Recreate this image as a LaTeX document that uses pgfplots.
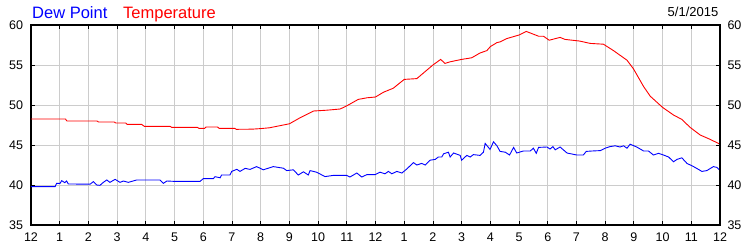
\documentclass[border=0pt]{standalone}
\usepackage{fontspec}
\setmainfont{Liberation Sans}
\usepackage{pgfplots}
\pgfplotsset{compat=1.18}
\definecolor{gridgray}{RGB}{204,204,204}
\definecolor{dewblue}{RGB}{0,0,255}
\definecolor{tempred}{RGB}{255,0,0}
\pgfplotsset{
  common/.style={
    at={(0,0)}, anchor=south west,
    scale only axis, width=689pt, height=200pt,
    xmin=0, xmax=24, ymin=35, ymax=60,
    ytick={35,40,...,60},
    xtick={0,1,...,24},
    tick align=inside,
    major tick length=4pt,
    tick style={black, line width=0.8pt},
    axis line style={black, line width=1.6pt},
    /pgf/number format/assume math mode=true,
    ticklabel style={font=\fontsize{12.5}{14}\selectfont},
    yticklabel style={inner sep=0pt, outer sep=0pt},
  }
}
\begin{document}
\begin{tikzpicture}[x=1pt,y=1pt]
\useasboundingbox (-31,-25) rectangle (719,225);
\begin{axis}[common,
  grid=major,
  major grid style={gridgray, line width=0.8pt},
  xticklabels={12,1,2,3,4,5,6,7,8,9,10,11,12,1,2,3,4,5,6,7,8,9,10,11,12},
  xticklabel style={yshift=-4pt},
  yticklabel style={xshift=-8pt},
  xtick pos=both, ytick pos=both, xticklabel pos=bottom, yticklabel pos=left,
]
\addplot[tempred, line width=0.9pt] coordinates {
(0,48.25)(1.2,48.25)(1.25,48.0)(2.3,48.0)(2.35,47.88)(2.9,47.88)(2.95,47.75)(3.3,47.75)(3.35,47.58)(3.85,47.58)(3.95,47.33)(4.85,47.33)(4.9,47.2)(5.8,47.2)(5.85,47.08)(6.05,47.08)(6.1,47.25)(6.5,47.25)(6.55,47.08)(7.1,47.08)(7.15,46.96)(7.7,46.98)(8.0,47.05)(8.3,47.15)(8.65,47.4)(9.0,47.65)(9.37,48.4)(9.84,49.25)(10.3,49.35)(10.77,49.5)(11.0,49.9)(11.4,50.7)(11.7,50.9)(12.0,51.0)(12.28,51.6)(12.62,52.1)(13.0,53.2)(13.44,53.3)(13.67,54.0)(14.0,55.0)(14.27,55.7)(14.42,55.2)(14.6,55.4)(15.0,55.7)(15.35,55.9)(15.64,56.5)(15.88,56.8)(16.0,57.3)(16.23,57.8)(16.35,57.9)(16.57,58.3)(17.0,58.75)(17.25,59.2)(17.68,58.6)(17.85,58.6)(18.05,58.1)(18.43,58.45)(18.6,58.2)(19.1,58.0)(19.48,57.7)(19.94,57.6)(20.29,56.8)(20.76,55.6)(20.99,54.5)(21.34,52.3)(21.57,51.1)(22.0,49.7)(22.38,48.75)(22.67,48.2)(22.96,47.2)(23.31,46.25)(23.66,45.7)(24.0,45.1)
};
\addplot[dewblue, line width=0.9pt] coordinates {
(0,39.8)(0.84,39.8)(0.89,40.2)(1.01,40.2)(1.07,40.54)(1.18,40.29)(1.24,40.5)(1.3,40.13)(2.06,40.1)(2.17,40.42)(2.29,40.0)(2.4,39.96)(2.52,40.33)(2.64,40.63)(2.75,40.33)(2.93,40.71)(3.1,40.33)(3.22,40.5)(3.39,40.33)(3.68,40.63)(4.49,40.63)(4.61,40.2)(4.73,40.5)(4.96,40.46)(5.89,40.46)(6.0,40.79)(6.35,40.79)(6.41,41.04)(6.59,40.9)(6.64,41.25)(6.93,41.25)(6.99,41.7)(7.17,41.96)(7.28,41.7)(7.46,42.08)(7.63,41.95)(7.86,42.3)(8.09,41.9)(8.44,42.3)(8.79,42.1)(8.91,41.8)(9.14,41.9)(9.31,41.25)(9.49,41.65)(9.66,41.25)(9.72,41.8)(9.95,41.6)(10.24,41.05)(10.53,41.2)(11.0,41.2)(11.11,41.0)(11.35,41.5)(11.52,41.0)(11.7,41.3)(11.99,41.3)(12.16,41.6)(12.33,41.4)(12.45,41.7)(12.57,41.4)(12.74,41.7)(12.92,41.5)(13.09,42.0)(13.32,42.8)(13.44,42.5)(13.61,42.7)(13.73,42.5)(13.9,43.1)(14.08,43.2)(14.19,43.5)(14.31,43.5)(14.37,43.9)(14.54,44.1)(14.6,43.5)(14.72,44.0)(14.95,43.7)(15.0,43.1)(15.18,43.7)(15.3,43.5)(15.41,43.8)(15.64,43.7)(15.76,44.1)(15.82,45.2)(15.99,44.45)(16.11,45.4)(16.23,44.9)(16.34,44.2)(16.52,44.1)(16.67,43.75)(16.81,44.7)(16.92,44.0)(17.15,44.25)(17.39,44.25)(17.5,44.6)(17.6,43.96)(17.68,44.7)(17.97,44.75)(18.08,44.5)(18.18,44.8)(18.26,44.4)(18.43,44.75)(18.67,44.0)(19.01,43.75)(19.24,43.75)(19.34,44.2)(19.54,44.25)(19.83,44.3)(20.0,44.6)(20.17,44.8)(20.35,44.9)(20.52,44.75)(20.64,44.9)(20.76,44.6)(20.87,45.1)(21.1,44.75)(21.34,44.25)(21.51,44.25)(21.68,43.75)(21.86,43.96)(22.03,43.75)(22.21,43.5)(22.38,42.9)(22.5,43.2)(22.67,43.4)(22.85,42.7)(23.08,42.3)(23.37,41.7)(23.54,41.8)(23.77,42.3)(23.89,42.2)(24.0,41.8)
};
\end{axis}
\begin{axis}[common,
  hide x axis,
  axis y line*=right,
  yticklabel pos=right,
  yticklabel style={xshift=7.5pt},
]
\addplot[draw=none] coordinates {(0,40)(24,40)};
\end{axis}
\node[anchor=base west, inner sep=0pt, text=dewblue, font=\fontsize{16.5}{18}\selectfont] at (1,206.5) {Dew Point};
\node[anchor=base west, inner sep=0pt, text=tempred, font=\fontsize{16.5}{18}\selectfont] at (92,206.5) {Temperature};
\node[anchor=base east, inner sep=0pt, font=\fontsize{13}{15}\selectfont] at (687.5,208.3) {5/1/2015};
\end{tikzpicture}
\end{document}
